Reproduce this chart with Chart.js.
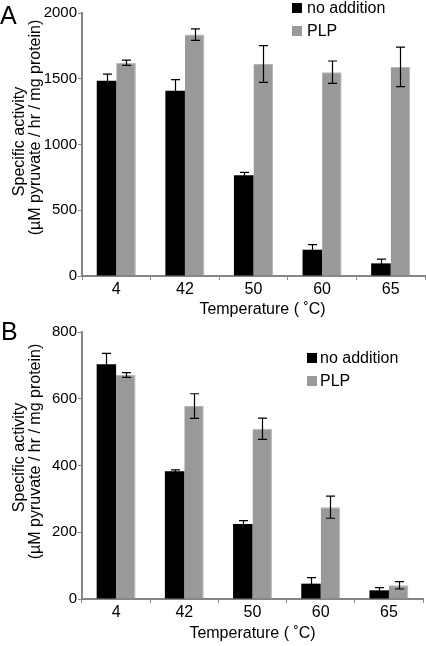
<!DOCTYPE html>
<html>
<head>
<meta charset="utf-8">
<script src="https://cdn.jsdelivr.net/npm/chart.js@4"></script>
<style>
  html, body { margin:0; padding:0; background:#fff; }
  body { width:426px; height:646px; position:relative; overflow:hidden; font-family:"Liberation Sans", Arial, sans-serif; }
  .box { position:absolute; left:0; width:426px; }
  .panel { position:absolute; left:0; font-size:25px; color:#000; line-height:1; }
  .leg { position:absolute; font-size:16px; color:#000; line-height:1; }
  .leg .sq { position:absolute; width:10px; height:10px; }
  .leg .tx { position:absolute; white-space:nowrap; }
</style>
</head>
<body>
<div class="box" style="top:0;height:320px;"><canvas id="cA" width="426" height="320"></canvas></div>
<div class="box" style="top:320px;height:326px;"><canvas id="cB" width="426" height="326"></canvas></div>
<div class="panel" style="top:3px;">A</div>
<div class="panel" style="top:319px;left:1px;">B</div>

<div class="leg" style="left:292px;top:0px;">
  <div class="sq" style="left:0;top:3px;background:#000;"></div>
  <div class="tx" style="left:15px;top:0px;">no addition</div>
  <div class="sq" style="left:0;top:26px;background:#999;"></div>
  <div class="tx" style="left:15px;top:23px;">PLP</div>
</div>
<div class="leg" style="left:307px;top:350px;">
  <div class="sq" style="left:0;top:3px;background:#000;"></div>
  <div class="tx" style="left:13px;top:0px;">no addition</div>
  <div class="sq" style="left:0;top:26px;background:#999;"></div>
  <div class="tx" style="left:13px;top:23px;">PLP</div>
</div>

<script>
const categories = ['4', '42', '50', '60', '65'];
const seriesNames = ['no addition', 'PLP'];

const noAdditionA = [1485, 1408, 766, 200, 96];
const noAdditionAErr = [50, 85, 22, 38, 33];
const plpA = [1622, 1836, 1612, 1550, 1590];
const plpAErr = [20, 44, 140, 85, 150];

const noAdditionB = [703, 383, 225, 46, 26];
const noAdditionBErr = [33, 4, 10, 18, 8];
const plpB = [671, 578, 510, 275, 41];
const plpBErr = [7, 37, 32, 33, 11];

const yTicksA = [0, 500, 1000, 1500, 2000];
const yTicksB = [0, 200, 400, 600, 800];

const xTitle = 'Temperature ( \u02DAC)';
const yTitle = ['Specific activity', '(\u00B5M pyruvate / hr / mg protein)'];

const FONT = '"Liberation Sans", Arial, sans-serif';
const AXIS = '#858585';

const errorBars = {
  id: 'errorBars',
  afterDatasetsDraw(chart) {
    const ctx = chart.ctx;
    const y = chart.scales.y;
    ctx.save();
    ctx.strokeStyle = '#000';
    ctx.lineWidth = 1.2;
    chart.data.datasets.forEach((ds, i) => {
      const meta = chart.getDatasetMeta(i);
      meta.data.forEach((bar, j) => {
        const v = ds.data[j], e = ds.errors[j];
        const x = Math.round(bar.x) + 0.5;
        const yt = y.getPixelForValue(v + e);
        const yb = y.getPixelForValue(v - e);
        ctx.beginPath();
        ctx.moveTo(x, yt); ctx.lineTo(x, yb);
        ctx.moveTo(x - 4.5, yt); ctx.lineTo(x + 4.5, yt);
        ctx.moveTo(x - 4.5, yb); ctx.lineTo(x + 4.5, yb);
        ctx.stroke();
      });
    });
    ctx.restore();
  }
};

// axis titles placed relative to the chart area
const axisTitles = {
  id: 'axisTitles',
  afterDraw(chart, args, opts) {
    const ctx = chart.ctx;
    const ca = chart.chartArea;
    ctx.save();
    ctx.fillStyle = '#000';
    ctx.font = '16px ' + FONT;
    ctx.textAlign = 'center';
    ctx.textBaseline = 'middle';
    const midY = (ca.top + ca.bottom) / 2;
    opts.yLines.forEach((ln, k) => {
      ctx.save();
      ctx.translate(ln.x, midY + ln.dy);
      ctx.rotate(-Math.PI / 2);
      ctx.fillText(yTitle[k], 0, 0);
      ctx.restore();
    });
    ctx.fillText(xTitle, (ca.left + ca.right) / 2 + opts.xdx, opts.xy);
    ctx.restore();
  }
};

function makeChart(id, a, aErr, b, bErr, ticks, pad, xHeight, titleOpts) {
  const maxV = ticks[ticks.length - 1];
  const step = ticks[1] - ticks[0];
  return new Chart(document.getElementById(id), {
    type: 'bar',
    data: {
      labels: categories,
      datasets: [
        { label: seriesNames[0], data: a, errors: aErr, backgroundColor: '#000000',
          categoryPercentage: 0.57, barPercentage: 1.0 },
        { label: seriesNames[1], data: b, errors: bErr, backgroundColor: '#999999',
          borderColor: '#b5b5b5', borderWidth: {left:0, right:1, top:1, bottom:0},
          categoryPercentage: 0.57, barPercentage: 1.0 }
      ]
    },
    options: {
      responsive: false,
      animation: false,
      events: [],
      layout: { padding: pad },
      plugins: { legend: { display: false }, tooltip: { enabled: false }, axisTitles: titleOpts },
      scales: {
        x: {
          grid: { drawOnChartArea: false, drawTicks: true, tickLength: 4, color: AXIS, lineWidth: 1, offset: true },
          border: { display: true, color: AXIS, width: 2 },
          ticks: { color: '#000', font: { family: FONT, size: 16 }, padding: 0, maxRotation: 0 },
          afterFit(s) { s.height = xHeight; }
        },
        y: {
          min: 0, max: maxV,
          grid: { drawOnChartArea: false, drawTicks: true, tickLength: 4, color: AXIS, lineWidth: 1 },
          border: { display: true, color: AXIS, width: 2 },
          ticks: { stepSize: step, color: '#000', font: { family: FONT, size: 15 }, padding: 1,
                   callback: (v) => String(v) },
          afterFit(s) { s.width = 82; }
        }
      }
    },
    plugins: [errorBars, axisTitles]
  });
}

makeChart('cA', noAdditionA, noAdditionAErr, plpA, plpAErr, yTicksA,
  { top: 13, right: 1, left: 0, bottom: 0 }, 44,
  { yLines: [{ x: 20, dy: -3 }, { x: 35.5, dy: -17 }], xdx: 9, xy: 310 });
makeChart('cB', noAdditionB, noAdditionBErr, plpB, plpBErr, yTicksB,
  { top: 12, right: 3, left: 0, bottom: 0 }, 47,
  { yLines: [{ x: 20, dy: -8 }, { x: 35.5, dy: -14 }], xdx: 0, xy: 314 });
</script>
</body>
</html>
